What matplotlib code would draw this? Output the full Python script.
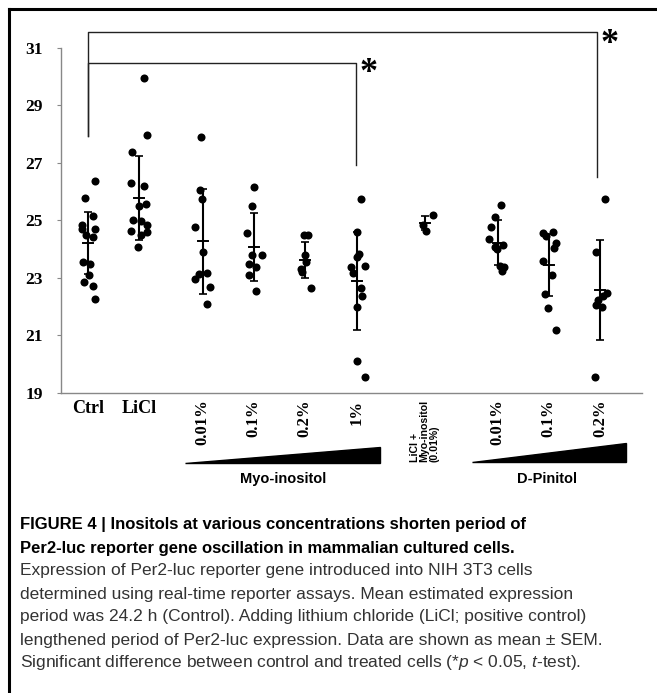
import numpy as np
import matplotlib
matplotlib.use("Agg")
import matplotlib.pyplot as plt
from matplotlib.lines import Line2D
from matplotlib.patches import Polygon

plt.rcParams['mathtext.fontset'] = 'custom'
plt.rcParams['mathtext.it'] = 'Liberation Sans:italic'
plt.rcParams['mathtext.rm'] = 'Liberation Sans'

# period (h) of every well
groups = ['Ctrl', 'LiCl', '0.01%', '0.1%', '0.2%', '1%',
          'LiCl +\nMyo-inositol\n(0.01%)', '0.01%', '0.1%', '0.2%']
ctrl = [26.38, 25.76, 25.16, 24.85, 24.69, 24.68, 24.48, 24.43, 23.53, 23.46, 23.11, 22.86, 22.72, 22.25]
licl = [29.93, 27.98, 27.37, 26.30, 26.20, 25.55, 25.48, 24.99, 24.98, 24.84, 24.62, 24.58, 24.48, 24.07]
myo_001 = [27.91, 26.05, 25.74, 24.77, 23.88, 23.17, 23.12, 22.96, 22.67, 22.10]
myo_01 = [26.16, 25.48, 24.56, 23.78, 23.78, 23.46, 23.36, 23.08, 22.53]
myo_02 = [24.47, 24.49, 23.79, 23.53, 23.32, 23.21, 22.64]
myo_1 = [25.73, 24.60, 23.82, 23.72, 23.36, 23.39, 23.17, 22.64, 22.35, 21.97, 20.12, 19.55]
licl_myo = [25.17, 24.83, 24.61]
pin_001 = [25.53, 25.10, 24.77, 24.33, 24.14, 24.07, 23.99, 23.39, 23.38, 23.23]
pin_01 = [24.56, 24.60, 24.45, 24.21, 24.02, 23.58, 23.11, 22.43, 21.93, 21.19]
pin_02 = [25.73, 23.88, 22.47, 22.36, 22.22, 22.05, 21.97, 19.55]

# horizontal scatter of the dots as drawn (group units)
ctrl_dx = [0.13, -0.06, 0.09, -0.12, -0.12, 0.13, -0.04, 0.10, -0.10, 0.04, 0.02, -0.08, 0.09, 0.14]
licl_dx = [0.10, 0.16, -0.14, -0.16, 0.10, 0.14, 0.0, -0.12, 0.04, 0.16, -0.16, 0.16, 0.04, -0.02]
myo_001_dx = [-0.04, -0.06, -0.02, -0.16, 0.0, 0.08, -0.08, -0.16, 0.14, 0.08]
myo_01_dx = [0.0, -0.04, -0.13, -0.04, 0.17, -0.10, 0.04, -0.10, 0.04]
myo_02_dx = [-0.02, 0.07, 0.0, 0.02, -0.07, -0.05, 0.12]
myo_1_dx = [0.09, 0.0, 0.04, 0.0, -0.12, 0.16, -0.07, 0.08, 0.11, 0.0, 0.0, 0.16]
licl_myo_dx = [0.16, -0.04, 0.02]
pin_001_dx = [0.06, -0.06, -0.13, -0.16, 0.10, -0.06, -0.02, 0.04, 0.12, 0.08]
pin_01_dx = [-0.12, 0.08, -0.05, 0.15, 0.11, -0.12, 0.06, -0.08, -0.02, 0.15]
pin_02_dx = [0.10, -0.08, 0.13, 0.06, -0.04, -0.08, 0.04, -0.10]

means = [24.20, 25.78, 24.26, 24.07, 23.61, 22.89, 24.91, 24.22, 23.45, 22.57]
errs = [1.08, 1.47, 1.82, 1.17, 0.63, 1.70, 0.25, 0.78, 1.08, 1.73]

values = [ctrl, licl, myo_001, myo_01, myo_02, myo_1, licl_myo, pin_001, pin_01, pin_02]
jitter = [ctrl_dx, licl_dx, myo_001_dx, myo_01_dx, myo_02_dx, myo_1_dx, licl_myo_dx,
          pin_001_dx, pin_01_dx, pin_02_dx]

xpos = [0, 1, 2.25, 3.25, 4.25, 5.27, 6.6, 8.03, 9.03, 10.04]

fig = plt.figure(figsize=(6.57, 6.93), dpi=100)
ax = fig.add_axes([61 / 657, 300.3 / 693, 581 / 657, 345 / 693])

for x, vals, dx, m, e in zip(xpos, values, jitter, means, errs):
    ax.plot(x + np.array(dx), vals, 'o', color='black', ms=5.8, mew=0, zorder=3)
    ax.errorbar(x, m, yerr=e, fmt='none', ecolor='black', elinewidth=1.5,
                capsize=2.8, capthick=1.2, zorder=2)
    ax.plot([x - 0.1, x + 0.1], [m, m], color='black', lw=1.4, zorder=2)

ax.set_xlim(-0.53, 10.86)
ax.set_ylim(19, 31)
ax.set_yticks([19, 21, 23, 25, 27, 29, 31])
ax.tick_params(axis='y', direction='out', length=3, width=0.8, color='#888888', pad=10)
for lab in ax.get_yticklabels():
    lab.set_fontfamily('Liberation Serif')
    lab.set_fontweight('bold')
    lab.set_fontsize(12.5)
for s in ['top', 'right']:
    ax.spines[s].set_visible(False)
for s in ['left', 'bottom']:
    ax.spines[s].set_color('#888888')
    ax.spines[s].set_linewidth(1.0)

ax.set_xticks(xpos)
ax.set_xticklabels(groups)
ax.tick_params(axis='x', length=0, pad=5)
for i, lab in enumerate(ax.get_xticklabels()):
    if i < 2:
        lab.set_fontfamily('Liberation Serif')
        lab.set_fontweight('bold')
        lab.set_fontsize(13)
        lab.set_va('top')
    elif i == 6:
        lab.set_fontfamily('Liberation Sans')
        lab.set_fontweight('bold')
        lab.set_fontsize(7.6)
        lab.set_rotation(90)
        lab.set_va('top')
        lab.set_multialignment('left')
        lab.set_linespacing(0.95)
    else:
        lab.set_fontfamily('Liberation Serif')
        lab.set_fontweight('bold')
        lab.set_fontsize(12)
        lab.set_rotation(90)
        lab.set_va('top')

# significance brackets
br = dict(color='#222222', lw=1.0, clip_on=False)
ax.plot([xpos[0], xpos[0], xpos[9] - 0.06, xpos[9] - 0.06], [27.93, 31.53, 31.53, 26.5], **br)
ax.plot([xpos[0], xpos[0], xpos[5] - 0.02, xpos[5] - 0.02], [27.93, 30.48, 30.48, 26.92], **br)
ax.text(xpos[9] + 0.0, 31.7, '*', fontfamily='Liberation Serif', fontweight='bold',
        fontsize=26, ha='left', va='top')
ax.text(xpos[5] + 0.05, 30.66, '*', fontfamily='Liberation Serif', fontweight='bold',
        fontsize=26, ha='left', va='top')

# concentration wedges
ax.add_patch(Polygon([(1.90, 16.55), (5.73, 16.55), (5.73, 17.12)], closed=True,
                     color='black', clip_on=False))
ax.add_patch(Polygon([(7.52, 16.6), (10.55, 16.6), (10.55, 17.25)], closed=True,
                     color='black', clip_on=False))
ax.text(3.83, 16.25, 'Myo-inositol', fontfamily='Liberation Sans', fontweight='bold',
        fontsize=10.5, ha='center', va='top')
ax.text(9.0, 16.25, 'D-Pinitol', fontfamily='Liberation Sans', fontweight='bold',
        fontsize=10.5, ha='center', va='top')

# frame lines of the figure panel
fig.add_artist(Line2D([9 / 657, 9 / 657], [0, 1 - 9 / 693], color='black', lw=2.2))
fig.add_artist(Line2D([9 / 657, 1], [1 - 9 / 693, 1 - 9 / 693], color='black', lw=2.2))

caption_bold = ["FIGURE 4 | Inositols at various concentrations shorten period of",
                "Per2-luc reporter gene oscillation in mammalian cultured cells."]
caption_body = ["Expression of Per2-luc reporter gene introduced into NIH 3T3 cells",
                "determined using real-time reporter assays. Mean estimated expression",
                "period was 24.2 h (Control). Adding lithium chloride (LiCl; positive control)",
                "lengthened period of Per2-luc expression. Data are shown as mean \u00b1 SEM.",
                "Significant difference between control and treated cells (*$p$ < 0.05, $t$-test)."]
y0 = 525
for k, line in enumerate(caption_bold):
    fig.text(20 / 657, 1 - (y0 + 23 * k) / 693, line, fontfamily='Liberation Sans',
             fontweight='bold', fontsize=12, va='center', ha='left', color='black')
for k, line in enumerate(caption_body):
    fig.text(20 / 657, 1 - (y0 + 46 + 23 * k) / 693, line, fontfamily='Liberation Sans',
             fontsize=12.5, va='center', ha='left', color='#333333')

fig.savefig('out.png', dpi=100)
